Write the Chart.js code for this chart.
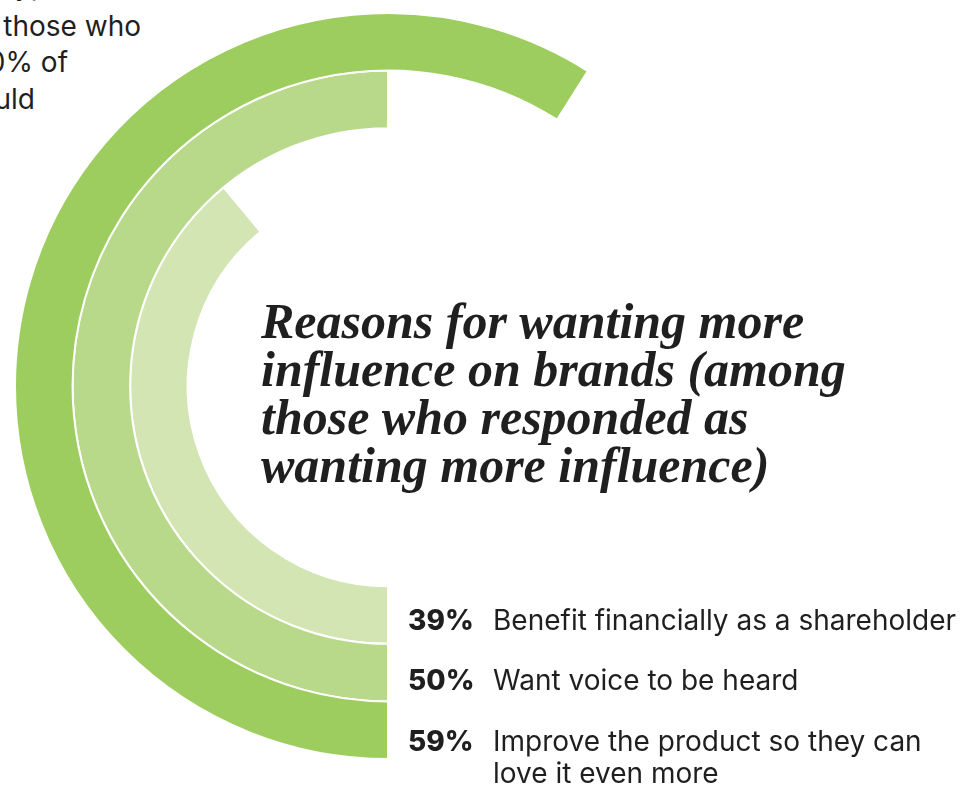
<!DOCTYPE html>
<html>
<head>
<meta charset="utf-8">
<script src="https://cdn.jsdelivr.net/npm/chart.js@4"></script>
<style>
  body { margin: 0; width: 979px; height: 786px; overflow: hidden; background: #fff; position: relative; color: #1f1f1f; }
  #ring { position: absolute; left: 14px; top: 12px; }
  .frag { position: absolute; white-space: nowrap; font-family: Inter, sans-serif; font-size: 28px; line-height: 37px; }
  #title { position: absolute; left: 261px; top: 297px; font-family: "Liberation Serif", serif; font-weight: bold; font-style: italic; font-size: 50px; line-height: 48px; }
  .row { position: absolute; left: 408px; display: flex; font-family: Inter, sans-serif; font-size: 28px; line-height: 32px; }
  .row b { width: 85px; flex: none; font-weight: 800; }
  .row span { width: 475px; }
</style>
</head>
<body>
<div class="frag" style="right:900px; top:-33px;">ing types</div>
<div class="frag" style="right:838px; top:8px;">those who</div>
<div class="frag" style="right:911px; top:44px;">40% of</div>
<div class="frag" style="right:944px; top:81px;">would</div>

<canvas id="ring" width="748" height="748"></canvas>

<div id="title">Reasons for wanting more<br>influence on brands (among<br>those who responded as<br>wanting more influence)</div>

<div id="rows"></div>

<script>
// outer ring first
let reasons = ["Improve the product so they can love it even more", "Want voice to be heard", "Benefit financially as a shareholder"];
let shares = [59, 50, 39];
let ringColors = ["#9dcd5f", "#b8d88a", "#d2e5b2"];

let datasets = [];
for (let i = 0; i < shares.length; ++i) {
    datasets.push({
        label: reasons[i],
        data: [shares[i], 100 - shares[i]],
        backgroundColor: [ringColors[i], "rgba(0,0,0,0)"],
        borderColor: "#fff",
        borderWidth: [2, 0]
    });
}

new Chart("ring", {
    type: "doughnut",
    data: {
        labels: ["share", "rest"],
        datasets: datasets
    },
    options: {
        responsive: false,
        animation: false,
        events: [],
        rotation: 180,
        cutout: "53.7%",
        layout: {padding: 0},
        plugins: {
            legend: {display: false},
            tooltip: {enabled: false}
        }
    }
});

// legend rows, inner ring at the top
let rowTops = [604, 664, 725];
let rows = document.getElementById("rows");
for (let i = shares.length - 1, k = 0; i >= 0; --i, ++k) {
    let row = document.createElement("div");
    row.className = "row";
    row.style.top = rowTops[k] + "px";
    row.innerHTML = "<b>" + shares[i] + "%</b><span>" + reasons[i] + "</span>";
    rows.appendChild(row);
}
</script>
</body>
</html>
